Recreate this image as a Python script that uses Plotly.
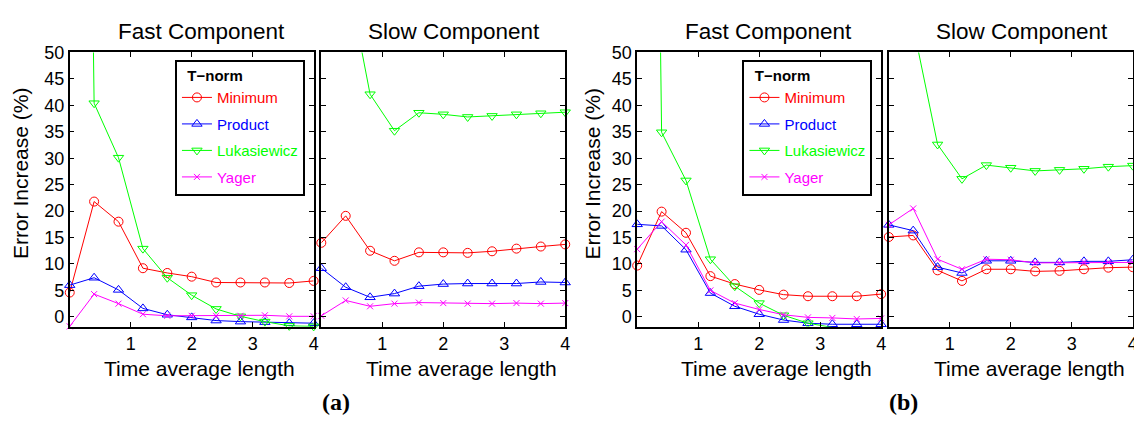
import plotly.graph_objects as go

# The page body has an 8px margin; the figure is sized so that it fills the
# 1142x421 window exactly, and reference pixel positions are shifted by it.
PAGE_MARGIN = 8
W, H = 1142 - PAGE_MARGIN, 421 - PAGE_MARGIN

x_len = [0, 0.4, 0.8, 1.2, 1.6, 2.0, 2.4, 2.8, 3.2, 3.6, 4.0]
names = ["Minimum", "Product", "Lukasiewicz", "Yager"]

# (a) Fast component
a_fast_min = [4.6, 21.8, 18.0, 9.2, 8.3, 7.6, 6.5, 6.5, 6.5, 6.4, 6.8]
a_fast_prod = [6.0, 7.4, 5.1, 1.6, 0.4, -0.1, -0.7, -0.9, -1.0, -1.2, -1.2]
a_fast_luk = [400, 40.4, 30.1, 12.9, 7.4, 4.1, 1.5, 0.1, -0.9, -1.7, -1.8]
a_fast_yag = [-1.8, 4.3, 2.5, 0.5, 0.2, 0.2, 0.2, 0.2, 0.3, 0.1, 0.1]
# (a) Slow component
a_slow_min = [14.0, 19.1, 12.5, 10.6, 12.2, 12.2, 12.1, 12.4, 12.9, 13.3, 13.7]
a_slow_prod = [9.2, 5.6, 3.7, 4.4, 5.8, 6.2, 6.3, 6.3, 6.3, 6.6, 6.5]
a_slow_luk = [120, 66, 42.1, 35.2, 38.6, 38.3, 37.8, 38.0, 38.3, 38.5, 38.7]
a_slow_yag = [0.2, 3.1, 2.0, 2.5, 2.7, 2.6, 2.5, 2.5, 2.6, 2.5, 2.6]
# (b) Fast component
b_fast_min = [9.7, 19.9, 15.9, 7.7, 6.2, 5.1, 4.2, 3.9, 3.9, 3.9, 4.3]
b_fast_prod = [17.5, 17.2, 12.7, 4.5, 2.0, 0.5, -0.6, -1.2, -1.4, -1.4, -1.4]
b_fast_luk = [400, 34.9, 25.8, 10.9, 5.8, 2.6, 0.3, -1.2, -2.0, -2.8, -3.0]
b_fast_yag = [12.8, 18.0, 13.6, 5.0, 2.6, 1.4, 0.4, -0.1, -0.2, -0.4, -0.3]
# (b) Slow component
b_slow_min = [15.1, 15.4, 8.8, 6.8, 9.0, 9.0, 8.6, 8.7, 9.0, 9.3, 9.4]
b_slow_prod = [17.4, 16.3, 9.4, 8.3, 10.6, 10.6, 10.3, 10.3, 10.5, 10.5, 10.8]
b_slow_luk = [90, 55, 32.6, 26.1, 28.7, 28.2, 27.6, 27.8, 28.0, 28.4, 28.6]
b_slow_yag = [17.4, 20.5, 10.9, 9.0, 10.9, 10.8, 10.2, 10.2, 10.3, 10.3, 10.3]

x_ticks = [1, 2, 3, 4]
y_ticks = [0, 5, 10, 15, 20, 25, 30, 35, 40, 45, 50]

colors = ["#ff0000", "#0000ff", "#00ff00", "#ff00ff"]
symbols = ["circle-open", "triangle-up-open", "triangle-down-open", "x-thin-open"]
msizes = [9, 9, 9, 6]

FONT = "Liberation Sans, Arial, Helvetica, sans-serif"

panels = [
    [a_fast_min, a_fast_prod, a_fast_luk, a_fast_yag],
    [a_slow_min, a_slow_prod, a_slow_luk, a_slow_yag],
    [b_fast_min, b_fast_prod, b_fast_luk, b_fast_yag],
    [b_slow_min, b_slow_prod, b_slow_luk, b_slow_yag],
]


def px(x):
    return (x - PAGE_MARGIN) / W


def py(y):
    return 1 - (y - PAGE_MARGIN) / H


# panel pixel extents in the window (left, right)
px_lr = [(70, 315), (322.7, 567.7), (640, 885), (892.7, 1137.7)]
top_px, bot_px = 43.3, 324.3

fig = go.Figure()
for p, series in enumerate(panels):
    ax = "" if p == 0 else str(p + 1)
    for s, vals in enumerate(series):
        show = p in (0, 2)
        clip = (p == 2 and s == 2)
        fig.add_trace(go.Scatter(
            x=x_len, y=vals, mode="lines+markers",
            xaxis="x" + ax, yaxis="y" + ax,
            name=f"<span style='color:{colors[s]}'>{names[s]}</span>",
            legendgroup=f"g{p}_{s}",
            line=dict(color=colors[s], width=1),
            marker=dict(symbol=symbols[s], size=msizes[s],
                        color=colors[s], line=dict(color=colors[s], width=1)),
            cliponaxis=clip,
            showlegend=show,
            legend="legend" if p == 0 else "legend2",
        ))

layout = dict(
    width=W, height=H,
    margin=dict(l=0, r=0, t=0, b=0),
    paper_bgcolor="white", plot_bgcolor="white",
    font=dict(family=FONT, size=18, color="black"),
    showlegend=True,
)

ydom = [py(bot_px), py(top_px)]
for p, (l, r) in enumerate(px_lr):
    ax = "" if p == 0 else str(p + 1)
    xa = dict(
        domain=[px(l), px(r)], range=[0, 4], anchor="y" + ax,
        tickvals=x_ticks, ticktext=[str(t) for t in x_ticks],
        ticks="inside", ticklen=5, tickwidth=1, tickcolor="black",
        showline=True, linecolor="black", linewidth=1.5, mirror="ticks",
        showgrid=False, zeroline=False, ticklabeloverflow="allow",
        tickfont=dict(family=FONT, size=18, color="black"),
    )
    ya = dict(
        domain=ydom, range=[-1.85, 50], anchor="x" + ax,
        tickvals=y_ticks,
        showticklabels=(p in (0, 2)),
        ticks="inside", ticklen=5, tickwidth=1, tickcolor="black",
        showline=True, linecolor="black", linewidth=1.5, mirror="ticks",
        showgrid=False, zeroline=False,
        tickfont=dict(family=FONT, size=18, color="black"),
    )
    layout["xaxis" + ax] = xa
    layout["yaxis" + ax] = ya

leg_common = dict(
    yanchor="top", xanchor="left", y=py(50.7),
    bgcolor="white", bordercolor="black", borderwidth=2,
    font=dict(family=FONT, size=15),
    title=dict(text="&nbsp;&nbsp;<b>T\u2212norm</b>",
               font=dict(family=FONT, size=15, color="black")),
    traceorder="grouped", tracegroupgap=4, itemwidth=30,
)
layout["legend"] = dict(x=px(175.7), **leg_common)
layout["legend2"] = dict(x=px(745.7), **leg_common)

annotations = []
titles = [("Fast Component", 202), ("Slow Component", 456),
          ("Fast Component", 772), ("Slow Component", 1026)]
for t, cx in titles:
    annotations.append(dict(text=t, x=px(cx), y=py(22), xref="paper", yref="paper",
                            showarrow=False, font=dict(family=FONT, size=22.5, color="black"),
                            xanchor="center", yanchor="middle"))
for cx in [200, 464, 780, 1034]:
    annotations.append(dict(text="Time average length", x=px(cx), y=py(367),
                            xref="paper", yref="paper", showarrow=False,
                            font=dict(family=FONT, size=21, color="black"),
                            xanchor="center", yanchor="middle"))
for cx in [20, 595]:
    annotations.append(dict(text="Error Increase (%)", x=px(cx), y=py(167),
                            xref="paper", yref="paper", showarrow=False, textangle=-90,
                            font=dict(family=FONT, size=21, color="black"),
                            xanchor="center", yanchor="middle"))
for t, cx in [("(a)", 337), ("(b)", 907)]:
    annotations.append(dict(text=f"<b>{t}</b>", x=px(cx), y=py(402),
                            xref="paper", yref="paper", showarrow=False,
                            font=dict(family="Liberation Serif, Times New Roman, serif",
                                      size=24, color="black"),
                            xanchor="center", yanchor="middle"))
layout["annotations"] = annotations

fig.update_layout(**layout)
fig.write_html("out.html")
